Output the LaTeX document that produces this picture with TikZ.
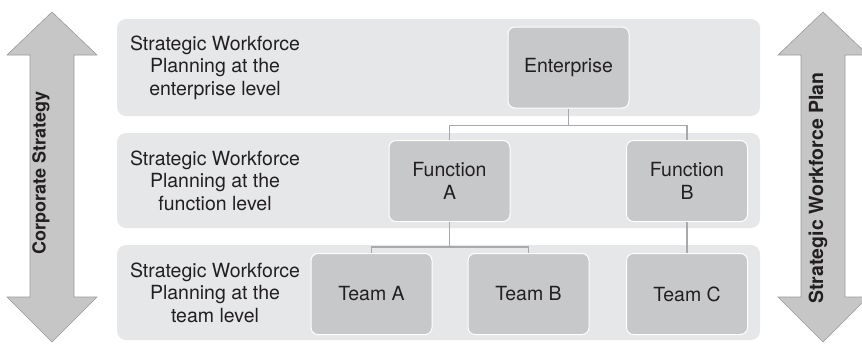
\documentclass[tikz,border=0pt]{standalone}
\usepackage{fontspec}
\setmainfont{TeX Gyre Heros}
\usetikzlibrary{positioning}

\definecolor{bandgray}{HTML}{E6E7E8}
\definecolor{boxgray}{HTML}{C7C8CA}
\definecolor{arrowgray}{HTML}{C6C6C7}
\definecolor{arrowedge}{HTML}{9A9A9C}
\definecolor{linkgray}{HTML}{A7A9AC}
\definecolor{inkgray}{HTML}{231F20}

\begin{document}
\begin{tikzpicture}[
  x=1pt, y=-1pt,
  every node/.style={font=\fontsize{19.5}{22.5}\selectfont, text=inkgray},
  band/.style={fill=bandgray, rounded corners=9pt},
  unit/.style={draw=white, line width=1pt, fill=boxgray, rounded corners=7pt,
    minimum width=121pt, minimum height=81pt, inner sep=0pt, align=center},
  levellabel/.style={align=center},
  link/.style={draw=linkgray, line width=1.2pt},
  bigarrow/.style={fill=arrowgray, draw=arrowedge, line width=0.6pt},
  arrowtext/.style={font=\bfseries\fontsize{18}{20}\selectfont, rotate=90},
]

\useasboundingbox (0,0) rectangle (862,343);

% Level bands
\fill[band] (117,19) rectangle (760,116);
\fill[band] (117,133) rectangle (760,228);
\fill[band] (117,245) rectangle (760,340);

% Band labels
\node[levellabel] (lvlent) at (215,67.5) {Strategic Workforce\\Planning at the\\enterprise level};
\node[levellabel] (lvlfun) at (215,180.5) {Strategic Workforce\\Planning at the\\function level};
\node[levellabel] (lvlteam) at (215,292.5) {Strategic Workforce\\Planning at the\\team level};

% Units
\node[unit] (ent) at (568.5,67.5) {Enterprise};
\node[unit] (funa) at (449.5,181) {Function\\A};
\node[unit] (funb) at (687,181) {Function\\B};
\node[unit] (teama) at (371.5,294) {Team A};
\node[unit] (teamb) at (528.5,294) {Team B};
\node[unit] (teamc) at (687,294) {Team C};

% Connectors
\draw[link] (ent.south) -- ++(0,17) coordinate (efork);
\draw[link] (funa.north) |- (efork) -| (funb.north);
\draw[link] (funa.south) -- ++(0,25) coordinate (ffork);
\draw[link] (teama.north) |- (ffork) -| (teamb.north);
\draw[link] (funb) -- (teamc);

% Side arrows
\foreach \cx in {52, 823} {
  \draw[bigarrow] (\cx,12) -- (\cx+45,55) -- (\cx+22,55) -- (\cx+22,297)
    -- (\cx+45,297) -- (\cx,342) -- (\cx-45,297) -- (\cx-22,297)
    -- (\cx-22,55) -- (\cx-45,55) -- cycle;
}
\node[arrowtext] (corp) at (41,173) {Corporate Strategy};
\node[arrowtext, font=\bfseries\fontsize{19.5}{22}\selectfont] (plan) at (818,188) {Strategic Workforce Plan};

\end{tikzpicture}
\end{document}
